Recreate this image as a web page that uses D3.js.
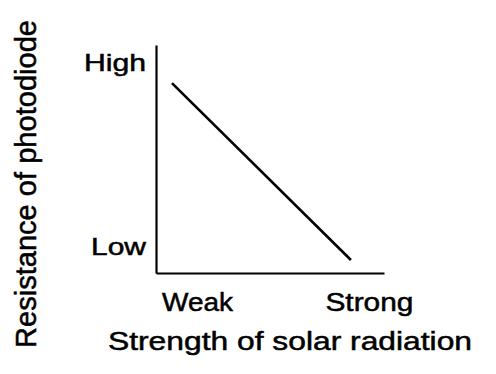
<!DOCTYPE html>
<html>
<head>
<meta charset="utf-8">
<script src="https://cdn.jsdelivr.net/npm/d3@7"></script>
<style>
  body { margin: 0; background: #fff; }
  text { font-family: "Liberation Sans", Arial, sans-serif; fill: #000; stroke: #000; stroke-width: 0.5; }
</style>
</head>
<body>
<svg id="chart" width="496" height="374"></svg>
<script>
// qualitative sketch: strength (0..1) vs resistance (0..1)
const xTickValues = [0.18, 0.934];
const xTickLabels = ['Weak', 'Strong'];
const yTickValues = [0.116, 0.925];
const yTickLabels = ['Low', 'High'];
const strength = [0.07, 0.855];
const resistance = [0.833, 0.057];

// label widths in the source are wide, stretch glyphs to them
const xTickWidths = [71, 88];
const yTickWidths = [55, 62];

const width = 496;
const height = 374;
const margin = {top: 45, right: 112, bottom: 101, left: 156};
const w = width - (margin.left + margin.right);
const h = height - (margin.top + margin.bottom);

const svg = d3.select('#chart');
const main = svg.append('g')
  .attr('transform', `translate(${margin.left}, ${margin.top})`);

const xScale = d3.scaleLinear().domain([0, 1]).range([0, w]);
const yScale = d3.scaleLinear().domain([0, 1]).range([h, 0]);

// axes
const xAxis = main.append('g')
  .attr('transform', `translate(0, ${h})`)
  .call(d3.axisBottom(xScale)
    .tickValues(xTickValues)
    .tickSize(0)
    .tickPadding(20)
    .tickFormat((d, i) => xTickLabels[i]));

const yAxis = main.append('g')
  .call(d3.axisLeft(yScale)
    .tickValues(yTickValues)
    .tickSize(0)
    .tickPadding(10)
    .tickFormat((d, i) => yTickLabels[i]));

[xAxis, yAxis].forEach(a => {
  a.attr('font-family', null).attr('font-size', null);
  a.select('.domain')
    .attr('stroke', '#000')
    .attr('stroke-width', 2.2);
});
xAxis.selectAll('text')
  .attr('font-size', 26)
  .attr('textLength', (d, i) => xTickWidths[i])
  .attr('lengthAdjust', 'spacingAndGlyphs');
yAxis.selectAll('text')
  .attr('font-size', 24)
  .attr('dy', '0.35em')
  .attr('textLength', (d, i) => yTickWidths[i])
  .attr('lengthAdjust', 'spacingAndGlyphs');

// line
const data = strength.map((s, i) => ({x: s, y: resistance[i]}));
main.append('path')
  .datum(data)
  .attr('fill', 'none')
  .attr('stroke', '#000')
  .attr('stroke-width', 2.6)
  .attr('d', d3.line().x(d => xScale(d.x)).y(d => yScale(d.y)));

// axis titles
svg.append('text')
  .attr('x', 290)
  .attr('y', 350)
  .attr('text-anchor', 'middle')
  .attr('font-size', 26)
  .attr('textLength', 364)
  .attr('lengthAdjust', 'spacingAndGlyphs')
  .text('Strength of solar radiation');

svg.append('text')
  .attr('transform', 'translate(36, 184) rotate(-90)')
  .attr('text-anchor', 'middle')
  .attr('font-size', 29)
  .attr('textLength', 328)
  .attr('lengthAdjust', 'spacingAndGlyphs')
  .text('Resistance of photodiode');
</script>
</body>
</html>
